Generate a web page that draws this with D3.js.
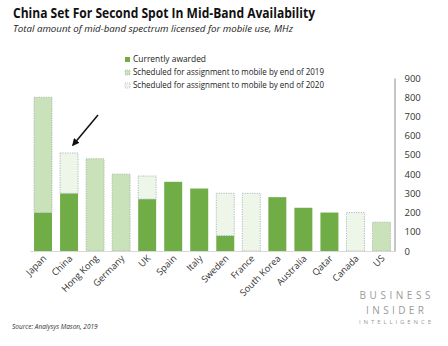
<!DOCTYPE html>
<html>
<head>
<meta charset="utf-8">
<script src="https://cdn.jsdelivr.net/npm/d3@7"></script>
<style>
body { margin: 0; background: #fff; }
svg { font-family: "Open Sans", sans-serif; }
</style>
</head>
<body>
<div id="chart"></div>
<script>
// chart values, MHz
const countries = ["Japan", "China", "Hong Kong", "Germany", "UK", "Spain", "Italy", "Sweden",
	"France", "South Korea", "Australia", "Qatar", "Canada", "US"];
const awarded = [200, 300, 0, 0, 270, 360, 325, 80, 0, 280, 225, 200, 0, 0];
const by2019 = [600, 0, 480, 400, 0, 0, 0, 0, 0, 0, 0, 0, 0, 150];
const by2020 = [0, 210, 0, 0, 120, 0, 0, 220, 300, 0, 0, 0, 200, 0];
const yTicks = [0, 100, 200, 300, 400, 500, 600, 700, 800, 900];
const seriesNames = ["Currently awarded", "Scheduled for assignment to mobile by end of 2019",
	"Scheduled for assignment to mobile by end of 2020"];

const W = 448, H = 346;
const svg = d3.select("#chart").append("svg").attr("width", W).attr("height", H);

svg.append("text").attr("x", 13).attr("y", 18)
	.style("font-size", "13.5px").style("font-weight", "bold").attr("fill", "#111")
	.attr("textLength", 302).attr("lengthAdjust", "spacingAndGlyphs")
	.text("China Set For Second Spot In Mid-Band Availability");
svg.append("text").attr("x", 13).attr("y", 31.5)
	.style("font-size", "9.3px").style("font-style", "italic").attr("fill", "#222")
	.attr("textLength", 280).attr("lengthAdjust", "spacingAndGlyphs")
	.text("Total amount of mid-band spectrum licensed for mobile use, MHz");

const x = d3.scaleBand().domain(countries).range([30, 394.5]).paddingInner(0.31).paddingOuter(0.155);
const y = d3.scaleLinear().domain([0, 900]).range([251, 78]);

let rows = countries.map(function (c, i) {
	return {country: c, a: awarded[i], b: by2019[i], c: by2020[i]};
});
const stack = d3.stack().keys(["a", "b", "c"])(rows);
const fills = ["#70ad47", "#c9e2b9", "#eef6ea"];
const strokes = [null, "#9fb0a4", "#9aa8b8"];

stack.forEach(function (layer, k) {
	svg.append("g").selectAll("rect")
		.data(layer.filter(d => d[1] > d[0])).enter()
		.append("rect")
		.attr("x", d => x(d.data.country))
		.attr("width", x.bandwidth())
		.attr("y", d => y(d[1]))
		.attr("height", d => y(d[0]) - y(d[1]))
		.attr("fill", fills[k])
		.attr("stroke", strokes[k] || "none")
		.attr("stroke-width", 0.8)
		.attr("stroke-dasharray", "1.2,1.2");
});

// baseline
svg.append("line").attr("x1", 30).attr("x2", 394.5).attr("y1", y(0) + 0.5).attr("y2", y(0) + 0.5)
	.attr("stroke", "#d9d9d9");

// right axis
const yAxis = d3.axisRight(y).tickValues(yTicks).tickSize(0).tickPadding(10);
const ag = svg.append("g").attr("transform", "translate(394.5,0)").call(yAxis);
ag.select(".domain").attr("stroke", "#8c8c8c");
ag.selectAll("text").style("font-size", "9.5px").attr("fill", "#333")
	.style("font-family", "'Open Sans', sans-serif");

// category labels
svg.append("g").selectAll("text")
	.data(countries).enter()
	.append("text")
	.attr("transform", d => "translate(" + (x(d) + x.bandwidth() / 2 + 4) + ",259) rotate(-45)")
	.attr("text-anchor", "end")
	.style("font-size", "9.3px").attr("fill", "#333")
	.text(d => d);

// legend
const lg = svg.append("g").selectAll("g")
	.data(seriesNames).enter()
	.append("g")
	.attr("transform", (d, i) => "translate(125," + [62, 75, 88][i] + ")");
lg.append("rect").attr("x", 0).attr("y", -5).attr("width", 5).attr("height", 5)
	.attr("fill", (d, i) => fills[i])
	.attr("stroke", (d, i) => strokes[i] || "none").attr("stroke-width", 0.6)
	.attr("stroke-dasharray", "1,1");
lg.append("text").attr("x", 8).attr("y", 0)
	.style("font-size", "8.2px").attr("fill", "#222")
	.attr("textLength", (d, i) => i == 0 ? 73 : 191).attr("lengthAdjust", "spacingAndGlyphs")
	.text(d => d);

// arrow pointing at China
svg.append("defs").append("marker").attr("id", "head")
	.attr("viewBox", "0 0 10 10").attr("refX", 8).attr("refY", 5)
	.attr("markerWidth", 5).attr("markerHeight", 5).attr("orient", "auto")
	.append("path").attr("d", "M0,0L10,5L0,10z").attr("fill", "#111");
svg.append("line").attr("x1", 98).attr("y1", 115).attr("x2", 73).attr("y2", 145)
	.attr("stroke", "#111").attr("stroke-width", 1.5).attr("marker-end", "url(#head)");

// source + logo
svg.append("text").attr("x", 12).attr("y", 329)
	.style("font-size", "6.5px").style("font-style", "italic").attr("fill", "#333")
	.text("Source: Analysys Mason, 2019");
const logo = [["BUSINESS", 299, 10, 71], ["INSIDER", 313.5, 10, 58], ["INTELLIGENCE", 323.5, 6, 72]];
svg.append("g").selectAll("text").data(logo).enter()
	.append("text")
	.attr("x", d => 395 - d[3] / 2).attr("y", d => d[1])
	.style("font-size", d => d[2] + "px")
	.attr("textLength", d => d[3]).attr("lengthAdjust", "spacing")
	.attr("fill", "#9a9a9a")
	.text(d => d[0]);
</script>
</body>
</html>
